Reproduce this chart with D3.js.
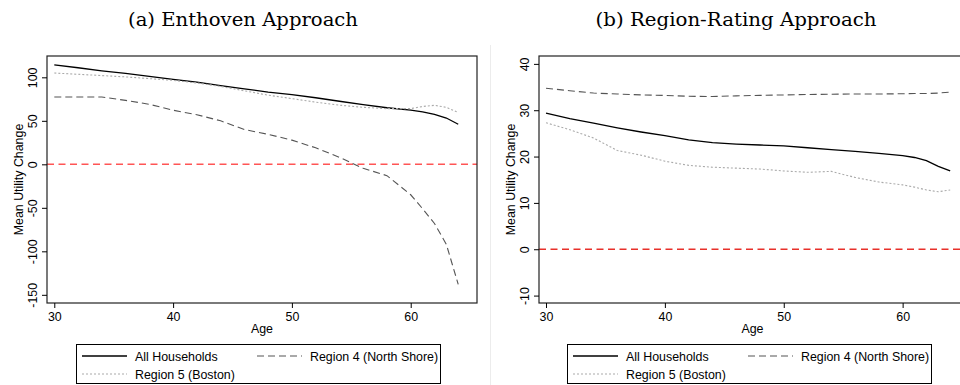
<!DOCTYPE html>
<html>
<head>
<meta charset="utf-8">
<script src="https://cdn.jsdelivr.net/npm/d3@7"></script>
<style>
  body { margin: 0; background: #fff; }
  svg { display: block; }
  text { font-family: "Liberation Sans", Arial, sans-serif; fill: #000; }
  .title { font-family: "DejaVu Serif", "Liberation Serif", serif; }
</style>
</head>
<body>
<div id="chart"></div>
<script>
// ages
const ages = [30, 32, 34, 36, 38, 40, 42, 44, 46, 48, 50, 52, 54, 56, 58, 60, 61, 62, 63, 64];
const ageTicks = [30, 40, 50, 60];

// (a) Enthoven
const enthovenAll = [114.4, 111, 107.5, 104.5, 101, 97.6, 94.5, 90.5, 86.8, 83, 80, 76.5, 72.5, 68.6, 65, 62.2, 60.3, 57.5, 53.2, 46];
const enthovenNorth = [77.4, 77.4, 77.4, 73.5, 69, 62.2, 57, 50, 40, 34.5, 27.8, 19, 8, -4.6, -13, -35, -51, -68, -92, -138];
const enthovenBoston = [104.9, 103.5, 102, 100.5, 98.5, 96.5, 93.5, 89.5, 84.5, 79.5, 75.5, 71.5, 68, 65.5, 64, 64, 66.5, 67.8, 65.5, 59.5];
const enthovenTicks = [100, 50, 0, -50, -100, -150];

// (b) Region-Rating
const ratingAll = [29.35, 28.2, 27.2, 26.2, 25.3, 24.5, 23.6, 23.0, 22.7, 22.5, 22.3, 21.9, 21.5, 21.1, 20.7, 20.2, 19.8, 19.1, 17.9, 16.9];
const ratingNorth = [34.75, 34.2, 33.7, 33.5, 33.3, 33.2, 33.0, 32.95, 33.1, 33.2, 33.3, 33.4, 33.45, 33.5, 33.5, 33.55, 33.6, 33.6, 33.7, 33.9];
const ratingBoston = [27.3, 25.8, 24.0, 21.3, 20.3, 19.0, 18.1, 17.7, 17.5, 17.3, 16.9, 16.6, 16.8, 15.5, 14.5, 13.9, 13.4, 12.8, 12.4, 12.8];
const ratingTicks = [40, 30, 20, 10, 0, -10];

const legendLabels = ["All Households", "Region 4 (North Shore)", "Region 5 (Boston)"];
const titles = ["(a) Enthoven Approach", "(b) Region-Rating Approach"];

const W = 960, H = 385;
const plotTop = 56, plotBottom = 303;

const seriesStyle = [
  { stroke: "#000", width: 1.3, dash: null },
  { stroke: "#555", width: 1.1, dash: "7,4" },
  { stroke: "#aaa", width: 1.1, dash: "2,2" }
];

const svg = d3.select("#chart").append("svg")
  .attr("width", W)
  .attr("height", H);

// faint separator between the two figures
svg.append("line")
  .attr("x1", 490.5).attr("x2", 490.5)
  .attr("y1", 45).attr("y2", H)
  .attr("stroke", "#ececec");

function drawPanel(p) {
  const x = d3.scaleLinear().domain(p.xDomain).range([p.left, p.right]);
  const y = d3.scaleLinear().domain(p.yDomain).range([plotBottom, plotTop]);
  const g = svg.append("g");

  // title
  g.append("text")
    .attr("class", "title")
    .attr("x", p.titleX)
    .attr("y", 25.5)
    .attr("text-anchor", "middle")
    .attr("font-size", 18)
    .attr("textLength", p.titleLen)
    .attr("lengthAdjust", "spacingAndGlyphs")
    .text(p.title);

  // zero line
  g.append("line")
    .attr("x1", p.left).attr("x2", p.right)
    .attr("y1", y(0)).attr("y2", y(0))
    .attr("stroke", p.zeroColor)
    .attr("stroke-width", 1.4)
    .attr("stroke-dasharray", "7,4.5");

  const line = d3.line()
    .x((d) => x(d[0]))
    .y((d) => y(d[1]));

  p.series.forEach((vals, i) => {
    const st = seriesStyle[i];
    g.append("path")
      .datum(ages.map((a, j) => [a, vals[j]]))
      .attr("d", line)
      .attr("fill", "none")
      .attr("stroke", st.stroke)
      .attr("stroke-width", st.width)
      .attr("stroke-dasharray", st.dash);
  });

  // frame
  g.append("rect")
    .attr("x", p.left).attr("y", plotTop)
    .attr("width", p.right - p.left)
    .attr("height", plotBottom - plotTop)
    .attr("fill", "none")
    .attr("stroke", "#222")
    .attr("stroke-width", 1.2);

  // x axis
  const xAxis = g.append("g")
    .attr("transform", "translate(0," + plotBottom + ")")
    .call(d3.axisBottom(x).tickValues(ageTicks).tickSize(5).tickSizeOuter(0).tickFormat((d) => String(d)));
  xAxis.select(".domain").remove();
  xAxis.selectAll("line").attr("stroke", "#000");
  xAxis.selectAll("text")
    .attr("y", 17.5).attr("dy", null)
    .attr("font-size", 12.4)
    .attr("font-family", null);

  g.append("text")
    .attr("x", (p.left + p.axisRight) / 2)
    .attr("y", 333)
    .attr("text-anchor", "middle")
    .attr("font-size", 12.4)
    .text("Age");

  // y axis
  const yAxis = g.append("g")
    .attr("transform", "translate(" + p.left + ",0)")
    .call(d3.axisLeft(y).tickValues(p.yTicks).tickSize(5).tickSizeOuter(0).tickFormat((d) => String(d)));
  yAxis.select(".domain").remove();
  yAxis.selectAll("line").attr("stroke", "#000");
  yAxis.selectAll("text")
    .attr("transform", "rotate(-90)")
    .attr("x", 0).attr("y", -10.5).attr("dy", null)
    .attr("text-anchor", "middle")
    .attr("font-size", 12.4)
    .attr("font-family", null);

  g.append("text")
    .attr("transform", "translate(" + (p.left - 24) + "," + ((plotTop + plotBottom) / 2) + ") rotate(-90)")
    .attr("text-anchor", "middle")
    .attr("font-size", 12.4)
    .text("Mean Utility Change");

  // legend
  const lg = g.append("g").attr("transform", "translate(" + p.legendX + ",344)");
  lg.append("rect")
    .attr("x", 0.5).attr("y", 0.5)
    .attr("width", 364).attr("height", 39)
    .attr("fill", "#fff")
    .attr("stroke", "#000");
  const spots = [[6, 12, 59], [181, 12, 234], [6, 30, 59]];
  legendLabels.forEach((lab, i) => {
    const st = seriesStyle[i];
    const s = spots[i];
    lg.append("line")
      .attr("x1", s[0]).attr("x2", s[0] + 45)
      .attr("y1", s[1]).attr("y2", s[1])
      .attr("stroke", st.stroke)
      .attr("stroke-width", st.width)
      .attr("stroke-dasharray", st.dash);
    lg.append("text")
      .attr("x", s[2])
      .attr("y", s[1] + 4.5)
      .attr("font-size", 12.4)
      .text(lab);
  });
}

drawPanel({
  title: titles[0], titleX: 243, titleLen: 230,
  left: 47, right: 477, axisRight: 477,
  xDomain: [29.386, 65.58],
  yDomain: [-159.4, 124.5],
  yTicks: enthovenTicks,
  series: [enthovenAll, enthovenNorth, enthovenBoston],
  zeroColor: "#ff5555",
  legendX: 76
});

drawPanel({
  title: titles[1], titleX: 736, titleLen: 281,
  left: 539, right: 966, axisRight: 966,
  xDomain: [29.41, 65.33],
  yDomain: [-11.6, 41.7],
  yTicks: ratingTicks,
  series: [ratingAll, ratingNorth, ratingBoston],
  zeroColor: "#e8302a",
  legendX: 567
});
</script>
</body>
</html>
